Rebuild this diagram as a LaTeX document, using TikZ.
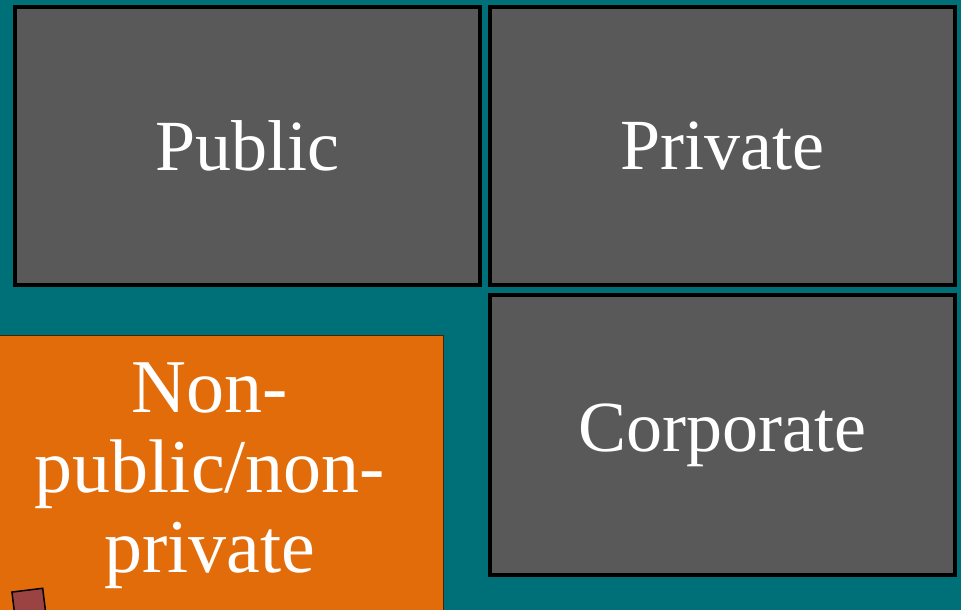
\documentclass[tikz,border=0pt]{standalone}
\usepackage{fontspec}
\setmainfont{Liberation Serif}
\usepackage{tikz}
\usetikzlibrary{shapes,backgrounds,positioning,fit}

\definecolor{Teal}{RGB}{0,112,120}
\definecolor{Slate}{RGB}{89,89,89}
\definecolor{Pumpkin}{RGB}{227,108,10}
\definecolor{Brick}{RGB}{155,66,66}

\begin{document}
\begin{tikzpicture}[x=1pt, y=-1pt]
			\tikzstyle{Box} 	= [rectangle, draw=black, line width=4.5pt, fill=Slate, text=white, inner sep=0pt, font=\fontsize{72}{78}\selectfont]
			\tikzstyle{Other}	= [rectangle, draw={rgb,255:red,70;green,35;blue,5}, line width=1pt, fill=Pumpkin, text=white, align=center, inner sep=0pt, font=\fontsize{76}{80}\selectfont]
			\tikzstyle{Tab}		= [rectangle, draw=black, line width=1.5pt, fill=Brick, inner sep=0pt]

			\fill[Teal] (0,0) rectangle (961,610);
			\useasboundingbox (0,0) rectangle (961,610);
			\clip (0,0) rectangle (961,610);

			\node (pub) at (247.5, 146) [Box, minimum width=465pt, minimum height=278pt] {Public};
			\node (priv) at (722.5, 146) [Box, minimum width=465pt, minimum height=278pt] {Private};
			\node (corp) at (722.5, 435) [Box, minimum width=465pt, minimum height=280pt] {Corporate};

			\node (nonpub) at (210, 476) [Other, minimum width=466pt, minimum height=282pt] {Non-\\public/non-\\private};
			\node (tab) at (30, 612) [Tab, rotate=7, minimum width=31pt, minimum height=44pt] {};
		\end{tikzpicture}
\end{document}
